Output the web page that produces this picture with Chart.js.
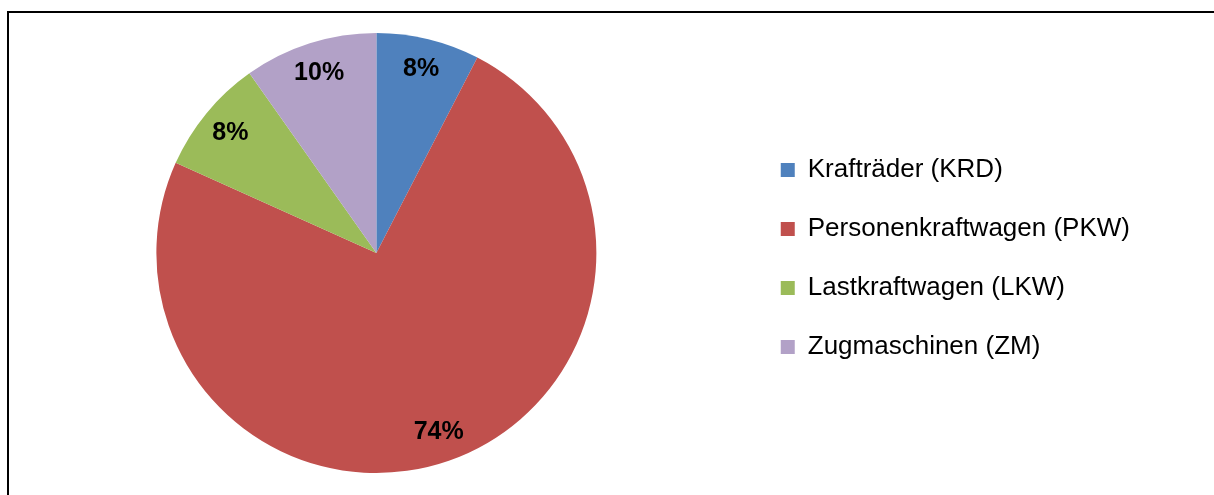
<!DOCTYPE html>
<html>
<head>
<meta charset="utf-8">
<script src="https://cdn.jsdelivr.net/npm/chart.js@4/dist/chart.umd.min.js"></script>
<style>
  html, body { margin: 0; padding: 0; background: #fff; }
  body { width: 1214px; height: 495px; position: relative; overflow: hidden; }
  .frame { position: absolute; left: 7px; top: 11px; right: -10px; bottom: -10px;
           border-top: 2px solid #000; border-left: 2px solid #000; }
  #chart { position: absolute; left: 0; top: 0; }
</style>
</head>
<body>
<div class="frame"></div>
<canvas id="chart" width="1214" height="495"></canvas>
<script>
// Vehicle categories and their shares (percent)
const categories = ["Krafträder (KRD)", "Personenkraftwagen (PKW)", "Lastkraftwagen (LKW)", "Zugmaschinen (ZM)"];
const shares = [7.6, 74.2, 8.5, 9.8];
const sliceColors = ["#4F81BD", "#C0504D", "#9BBB59", "#B2A1C7"];

// Draws the percent labels inside each slice
const sliceLabels = {
  id: "sliceLabels",
  afterDatasetsDraw(chart) {
    const ctx = chart.ctx;
    const meta = chart.getDatasetMeta(0);
    const total = shares.reduce((a, b) => a + b, 0);
    ctx.save();
    ctx.font = "bold 25px 'Liberation Sans', Arial, sans-serif";
    ctx.fillStyle = "#000";
    ctx.textAlign = "center";
    ctx.textBaseline = "middle";
    meta.data.forEach((arc, i) => {
      const p = arc.getProps(["x", "y", "startAngle", "endAngle", "outerRadius"], true);
      const mid = (p.startAngle + p.endAngle) / 2;
      const r = p.outerRadius * 0.86;
      const text = Math.round(shares[i] / total * 100) + "%";
      ctx.fillText(text, p.x + Math.cos(mid) * r, p.y + Math.sin(mid) * r);
    });
    ctx.restore();
  }
};

new Chart(document.getElementById("chart"), {
  type: "pie",
  data: {
    labels: categories,
    datasets: [{
      data: shares,
      backgroundColor: sliceColors,
      borderWidth: 0
    }]
  },
  options: {
    responsive: false,
    animation: false,
    layout: {
      padding: { left: 5, top: 33, bottom: 22, right: 74 }
    },
    plugins: {
      tooltip: { enabled: false },
      legend: {
        position: "right",
        // empty title only nudges the items down a little
        title: { display: true, text: "", font: { size: 1 }, padding: { top: 10, bottom: 0 } },
        labels: {
          boxWidth: 14,
          boxHeight: 14,
          padding: 33,
          color: "#000",
          font: { family: "'Liberation Sans', Arial, sans-serif", size: 26 }
        }
      }
    }
  },
  plugins: [sliceLabels]
});
</script>
</body>
</html>
